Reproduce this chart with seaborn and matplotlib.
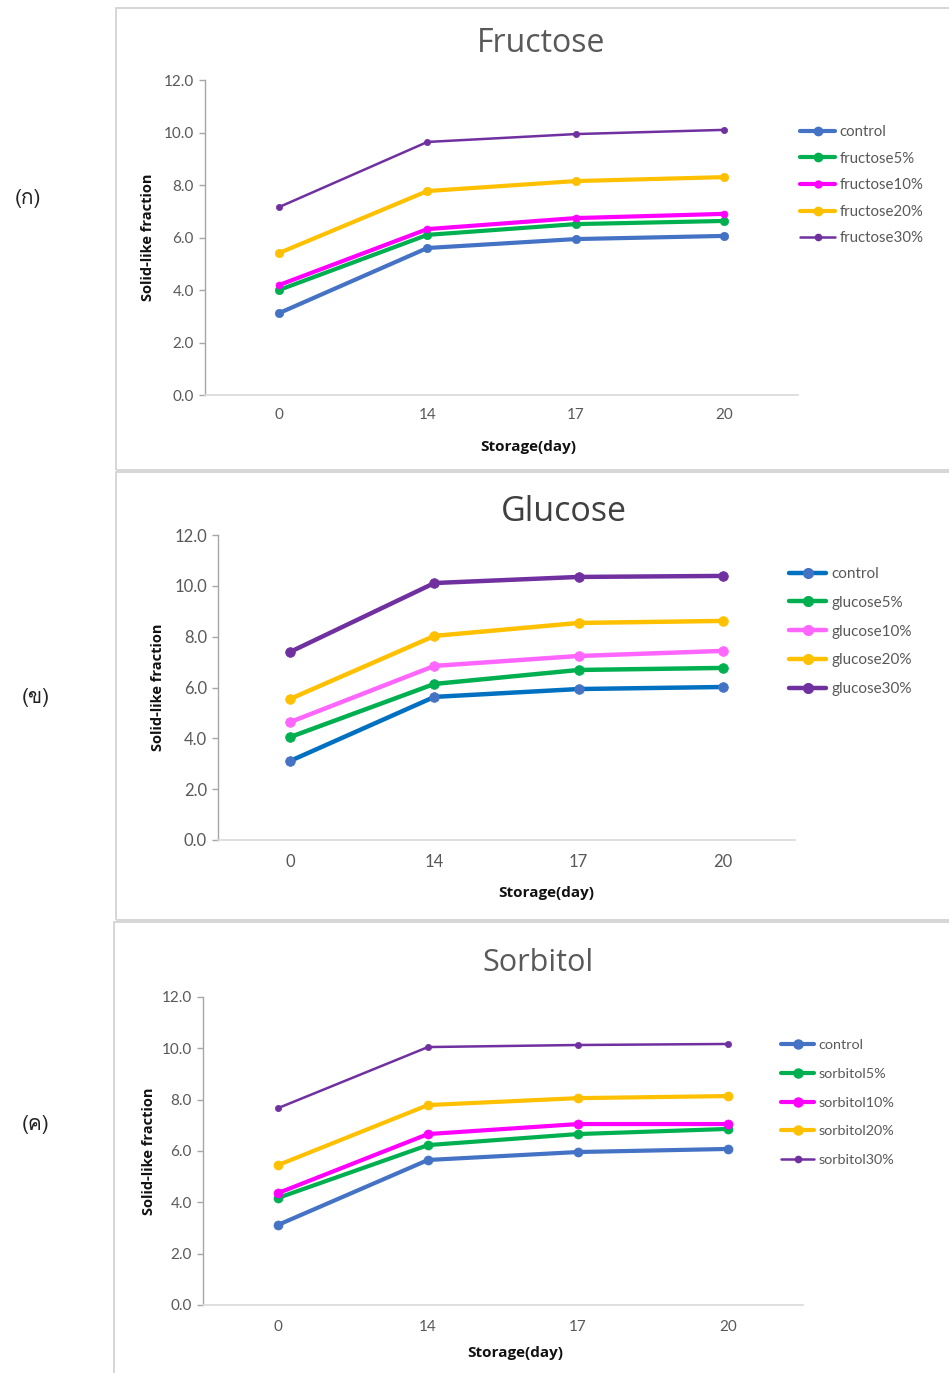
import numpy as np
import pandas as pd
import matplotlib
matplotlib.use("Agg")
import matplotlib.pyplot as plt
import seaborn as sns
from matplotlib import font_manager
from matplotlib.ft2font import FT2Font
from matplotlib.patches import Rectangle
from matplotlib.lines import Line2D

# data
days = ['0', '14', '17', '20']

fru_control = [3.12, 5.60, 5.94, 6.06]
fru_5 = [4.00, 6.10, 6.51, 6.63]
fru_10 = [4.19, 6.32, 6.74, 6.90]
fru_20 = [5.41, 7.77, 8.15, 8.30]
fru_30 = [7.16, 9.64, 9.94, 10.10]

glu_control = [3.11, 5.63, 5.94, 6.02]
glu_5 = [4.05, 6.14, 6.69, 6.77]
glu_10 = [4.64, 6.85, 7.24, 7.44]
glu_20 = [5.55, 8.03, 8.54, 8.62]
glu_30 = [7.40, 10.11, 10.35, 10.39]

sor_control = [3.12, 5.65, 5.96, 6.08]
sor_5 = [4.17, 6.23, 6.66, 6.86]
sor_10 = [4.36, 6.66, 7.05, 7.05]
sor_20 = [5.45, 7.79, 8.06, 8.14]
sor_30 = [7.67, 10.05, 10.13, 10.17]

fru_labels = ['control', 'fructose5%', 'fructose10%', 'fructose20%', 'fructose30%']
glu_labels = ['control', 'glucose5%', 'glucose10%', 'glucose20%', 'glucose30%']
sor_labels = ['control', 'sorbitol5%', 'sorbitol10%', 'sorbitol20%', 'sorbitol30%']
panel_tags = ['(ก)', '(ข)', '(ค)']

sns.set_theme(style='white')
plt.rcParams['font.family'] = ['Lato', 'DejaVu Sans']

# find some installed font that has Thai glyphs
thai_font = 'DejaVu Sans'
for f in font_manager.fontManager.ttflist:
    try:
        if 0x0E01 in FT2Font(f.fname).get_charmap():
            thai_font = f.name
            break
    except Exception:
        pass

W, H = 949, 1373
fig = plt.figure(figsize=(W / 100, H / 100), dpi=100)


def px_axes(x0, y0, x1, y1):
    return fig.add_axes([x0 / W, 1 - y1 / H, (x1 - x0) / W, (y1 - y0) / H])


def box(x0, y0, x1, y1):
    fig.patches.append(Rectangle((x0 / W, 1 - y1 / H), (x1 - x0) / W, (y1 - y0) / H,
                                 transform=fig.transFigure, fill=False,
                                 edgecolor='#D0D0D0', lw=1.2))


def panel(ax, series, labels, colors, lws, mss, title, tsize, tcolor, tpos,
          tick_fs, xpad, xlab_pos, ylab_pos, leg_anchor, leg_fs, leg_space,
          hlen=2.4, control_face=None):
    handles = []
    for i, (vals, lab) in enumerate(zip(series, labels)):
        face = control_face if (i == 0 and control_face) else colors[i]
        sns.lineplot(x=days, y=vals, ax=ax, color=colors[i], lw=lws[i], marker='o',
                     markersize=mss[i], markerfacecolor=face, markeredgecolor=face,
                     markeredgewidth=0.5, sort=False, legend=False)
        handles.append(Line2D([], [], color=colors[i], lw=lws[i], marker='o',
                              markersize=mss[i], markerfacecolor=face,
                              markeredgecolor=face, label=lab))
    ax.set_xlim(-0.5, 3.5)
    ax.set_ylim(0, 12)
    ax.set_yticks(np.arange(0, 12.1, 2))
    ax.set_yticklabels([f'{v:.1f}' for v in np.arange(0, 12.1, 2)])
    for s in ['top', 'right']:
        ax.spines[s].set_visible(False)
    ax.spines['left'].set_color('#A6A6A6')
    ax.spines['bottom'].set_color('#D9D9D9')
    ax.spines['left'].set_linewidth(1)
    ax.spines['bottom'].set_linewidth(1.2)
    ax.tick_params(axis='y', length=4, width=1, color='#A6A6A6', labelcolor='#595959',
                   labelsize=tick_fs, pad=4, left=True)
    ax.tick_params(axis='x', length=0, labelcolor='#595959', labelsize=tick_fs, pad=xpad)
    ax.set_xlabel('Storage(day)', fontsize=11, fontweight='bold', family='Open Sans',
                  color='#111111')
    ax.set_ylabel('Solid-like fraction', fontsize=10.5, fontweight='bold', family='Open Sans',
                  color='#111111')
    ax.xaxis.set_label_coords(*xlab_pos)
    ax.yaxis.set_label_coords(*ylab_pos)
    fig.text(tpos[0] / W, 1 - tpos[1] / H, title, fontsize=tsize, color=tcolor,
             family='Open Sans', ha='center', va='center')
    ax.legend(handles=handles, loc='upper left', bbox_to_anchor=leg_anchor,
              bbox_transform=fig.transFigure, frameon=False, fontsize=leg_fs,
              labelcolor='#595959', handlelength=hlen, handletextpad=0.3,
              labelspacing=leg_space, borderpad=0, borderaxespad=0)


# panel frames
box(116, 8, 960, 470)
box(116, 472, 960, 920)
box(114, 922, 960, 1380)

blue = '#4472C4'
green = '#00B050'
magenta = '#FF00FF'
gold = '#FFC000'
purple = '#7030A0'

ax1 = px_axes(205, 80, 798, 395)
panel(ax1, [fru_control, fru_5, fru_10, fru_20, fru_30], fru_labels,
      [blue, green, magenta, gold, purple], [3, 3, 3, 3, 1.8], [6, 6, 5, 6, 4.5],
      'Fructose', 23, '#595959', (541, 44), 11, 9.5,
      ((528 - 205) / 593, -(440 - 395) / 315), ((155 - 205) / 593, 0.5),
      (800 / W, 1 - 125 / H), 10.8, 0.84, hlen=2.35)

ax2 = px_axes(218, 535, 795, 840)
panel(ax2, [glu_control, glu_5, glu_10, glu_20, glu_30], glu_labels,
      ['#0070C0', green, '#FF66FF', gold, purple], [3.2, 3.2, 3.2, 3.2, 3.2],
      [7, 7, 7, 7, 7],
      'Glucose', 24.5, '#404040', (564, 512), 12, 10,
      ((546 - 218) / 577, -(886 - 840) / 305), ((165 - 218) / 577, 0.5),
      (789 / W, 1 - 567 / H), 11, 0.97, hlen=2.45, control_face=blue)

ax3 = px_axes(203, 997, 803, 1305)
panel(ax3, [sor_control, sor_5, sor_10, sor_20, sor_30], sor_labels,
      [blue, green, magenta, gold, purple], [3, 3, 3, 3, 1.8], [6.5, 6.5, 6.5, 6.5, 4.5],
      'Sorbitol', 22, '#595959', (538, 963), 11, 11,
      ((515 - 203) / 600, -(1346 - 1305) / 308), ((156 - 203) / 600, 0.5),
      (781 / W, 1 - 1039 / H), 10.4, 1.15, hlen=2.3)

for tag, (x, y) in zip(panel_tags, [(28, 198), (36, 697), (36, 1125)]):
    fig.text(x / W, 1 - y / H, tag, fontsize=15, color='#222222', family=thai_font,
             ha='center', va='center')

fig.savefig('out.png', dpi=100)
